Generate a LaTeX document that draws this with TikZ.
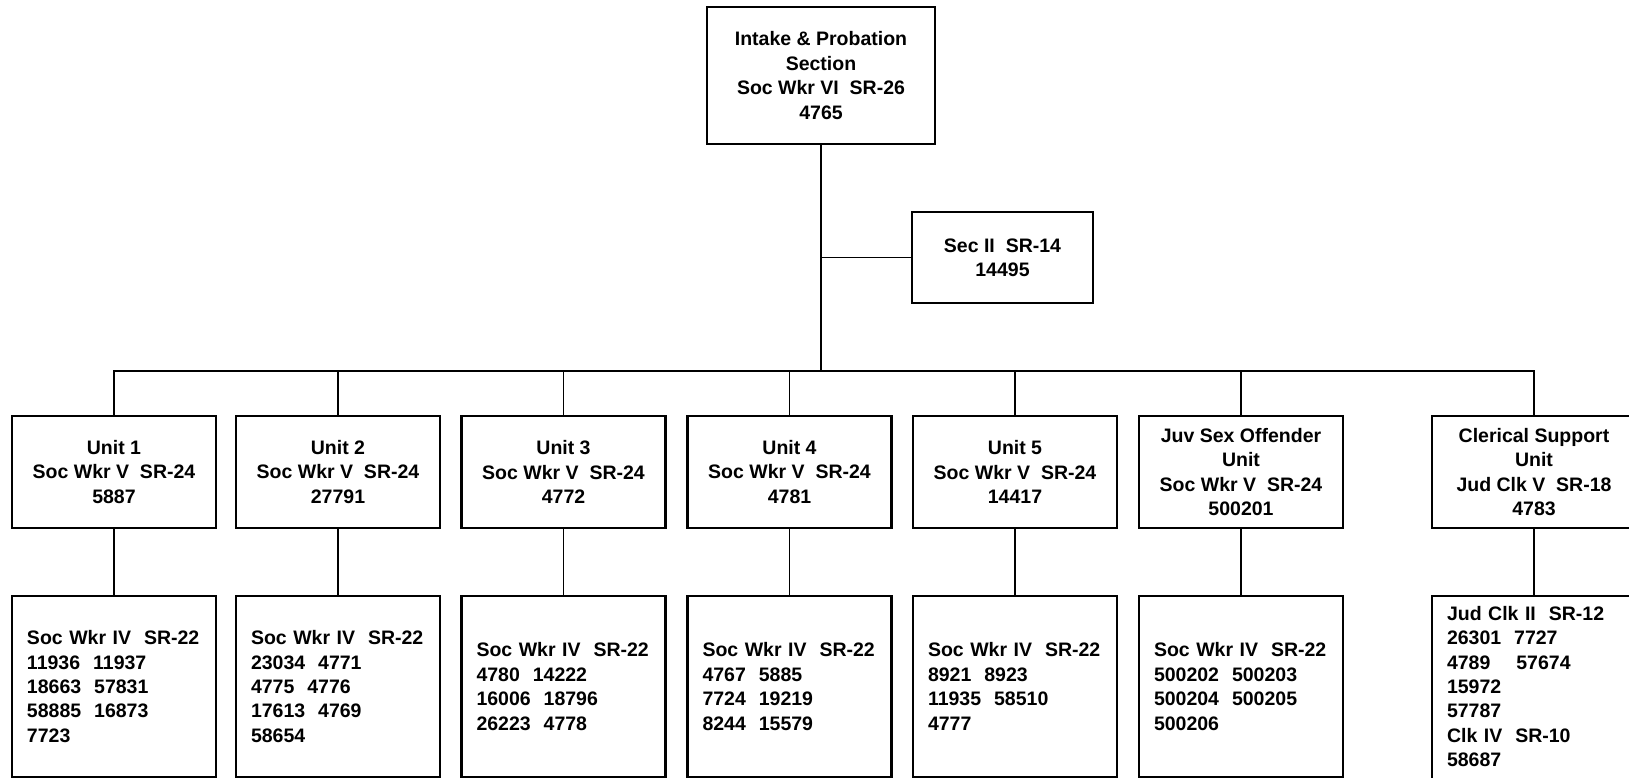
\documentclass[tikz,border=0pt]{standalone}
\usepackage{fontspec}
\setmainfont{Liberation Sans}
\newcommand\chartfont{\fontsize{19.5}{24.4}\selectfont\bfseries}
\begin{document}
\begin{tikzpicture}[x=1pt,y=-1pt,
  box/.style={draw=black, line width=2.6pt, inner sep=0pt, font=\chartfont, align=center},
  hdr/.style={box, minimum width=204, minimum height=112},
  lst/.style={draw=black, line width=2.6pt, inner sep=0pt, font=\chartfont, align=left,
              text width=174, minimum width=204, minimum height=181},
  lsttext/.style={inner sep=0pt, font=\chartfont, align=left, text width=174},
  conn/.style={draw=black, line width=1.8pt}]
\useasboundingbox (0,0) rectangle (1629,778);
\fill[white] (0,0) rectangle (1629,778);

% top level
\node[box, minimum width=228, minimum height=137] (top) at (821,75.5)
  {Intake \& Probation\\Section\\Soc Wkr VI~~SR-26\\4765};
\node[box, minimum width=181, minimum height=91] (sec) at (1002.5,257.5)
  {Sec II~~SR-14\\14495};

% unit headers
\node[hdr] (u1) at (114,472)    {Unit 1\\Soc Wkr V~~SR-24\\5887};
\node[hdr] (u2) at (338,472)    {Unit 2\\Soc Wkr V~~SR-24\\27791};
\node[hdr] (u3) at (563.5,472)  {Unit 3\\Soc Wkr V~~SR-24\\4772};
\node[hdr] (u4) at (789.5,472)  {Unit 4\\Soc Wkr V~~SR-24\\4781};
\node[hdr] (u5) at (1015,472)   {Unit 5\\Soc Wkr V~~SR-24\\14417};
\node[hdr] (u6) at (1241,472)   {Juv Sex Offender\\Unit\\Soc Wkr V~~SR-24\\500201};
\node[hdr] (u7) at (1534,472)   {Clerical Support\\Unit\\Jud Clk V~~SR-18\\4783};

% staff boxes
\node[lst] (b1) at (114,686.5)
  {Soc Wkr IV~~SR-22\\11936~~11937\\18663~~57831\\58885~~16873\\7723};
\node[lst] (b2) at (338,686.5)
  {Soc Wkr IV~~SR-22\\23034~~4771\\4775~~4776\\17613~~4769\\58654};
\node[lst] (b3) at (563.5,686.5)
  {Soc Wkr IV~~SR-22\\4780~~14222\\16006~~18796\\26223~~4778};
\node[lst] (b4) at (789.5,686.5)
  {Soc Wkr IV~~SR-22\\4767~~5885\\7724~~19219\\8244~~15579};
\node[lst] (b5) at (1015,686.5)
  {Soc Wkr IV~~SR-22\\8921~~8923\\11935~~58510\\4777};
\node[lst] (b6) at (1241,686.5)
  {Soc Wkr IV~~SR-22\\500202~~500203\\500204~~500205\\500206};
\node[lst, minimum height=240] (b7) at (1534,716) {};
\node[lsttext] (b7t) at (1534,686.5)
  {Jud Clk II~~SR-12\\26301~~7727\\4789~~~~57674\\15972\\57787\\Clk IV~~SR-10\\58687};

% connectors
\coordinate (mainJ) at (821,371);
\coordinate (secJ) at (821,257.5);
\draw[conn] (top.south) -- (mainJ);
\draw[conn] (secJ) -- (sec.west);
\draw[conn] (u1.north) |- (u7.north |- mainJ) -- (u7.north);
\foreach \u in {u2,u3,u4,u5,u6}{
  \draw[conn] (\u.north) -- (\u.north |- mainJ);
}
\foreach \u/\b in {u1/b1,u2/b2,u3/b3,u4/b4,u5/b5,u6/b6,u7/b7}{
  \draw[conn] (\u.south) -- (\b.north);
}
\end{tikzpicture}
\end{document}
